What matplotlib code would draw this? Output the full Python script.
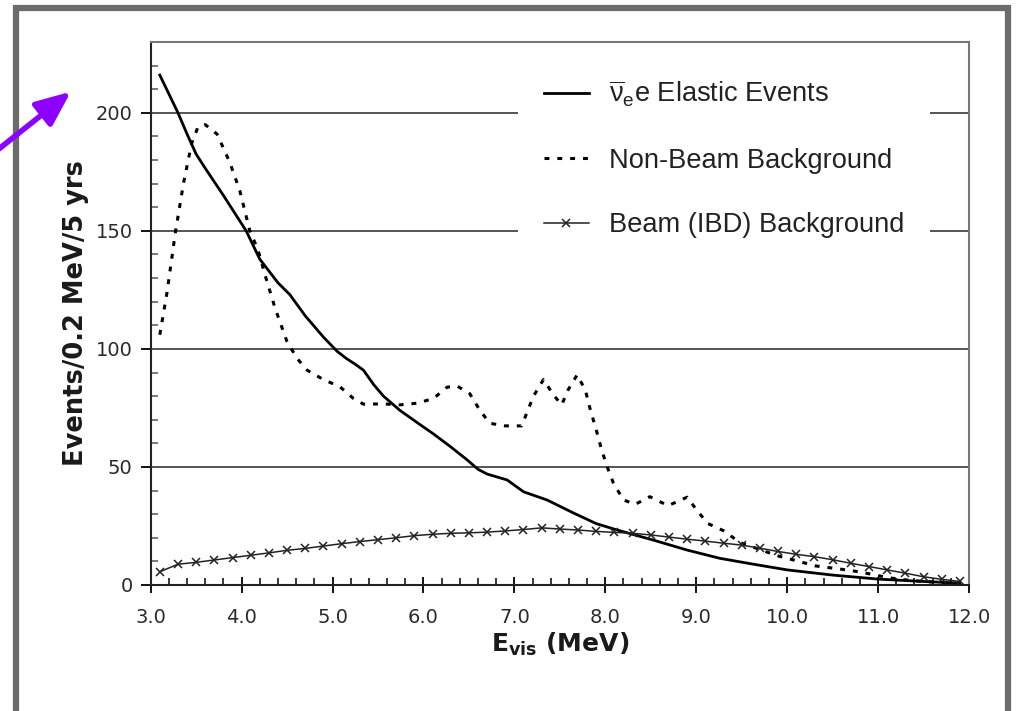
import matplotlib
matplotlib.use("Agg")
import matplotlib.pyplot as plt
from matplotlib.patches import Rectangle, FancyArrowPatch
from matplotlib.ticker import MultipleLocator

plt.rcParams['mathtext.fontset'] = 'custom'
plt.rcParams['mathtext.rm'] = 'Liberation Sans'
plt.rcParams['mathtext.it'] = 'Liberation Sans'
plt.rcParams['mathtext.bf'] = 'DejaVu Sans:bold'

# ---- data ----
elastic_E = [3.1, 3.2, 3.3, 3.4, 3.5, 3.6, 3.8, 4.0, 4.05, 4.2, 4.4, 4.53, 4.7, 4.9,
             5.05, 5.15, 5.25, 5.34, 5.45, 5.56, 5.74, 5.96, 6.11, 6.3, 6.48, 6.6,
             6.7, 6.92, 7.1, 7.36, 7.65, 7.9, 8.13, 8.53, 8.9, 9.26, 9.6, 10.0, 10.5,
             11.0, 11.5, 11.9]
elastic_v = [216, 208, 200, 191, 182.5, 176.5, 165, 153, 150, 138, 128, 123, 114, 105,
             99, 96, 93.5, 91, 85, 80, 74, 68, 64, 58.5, 53, 49,
             47, 44.5, 39.5, 36, 30.5, 26, 23.3, 19, 14.8, 11.3, 9, 6.4, 4.2,
             2.5, 1.5, 0.8]

nonbeam_E = [3.1, 3.18, 3.27, 3.36, 3.45, 3.52, 3.60, 3.73, 3.87, 3.98, 4.09, 4.18,
             4.26, 4.37, 4.50, 4.61, 4.72, 4.90, 5.08, 5.23, 5.34, 5.56, 5.74, 5.93,
             6.11, 6.26, 6.37, 6.51, 6.62, 6.73, 6.90, 7.08, 7.21, 7.32, 7.43, 7.52,
             7.59, 7.69, 7.78, 7.83, 7.91, 7.96, 8.02, 8.09, 8.20, 8.33, 8.49, 8.69,
             8.90, 9.02, 9.13, 9.30, 9.48, 9.90, 10.11, 10.31, 10.51, 10.71, 10.91,
             11.11, 11.32, 11.52, 11.83]
nonbeam_v = [106, 124, 149, 170, 187, 194, 195, 191, 179, 167, 150, 142,
             131, 117, 103, 96, 91, 87, 84, 79, 76.6, 76.7, 76.3, 77,
             79, 83.8, 84.3, 81, 74, 68.5, 67.4, 67.4, 80, 87, 80.5, 76.3,
             82.6, 89, 82.6, 75, 64.3, 57.2, 50.1, 43.1, 36, 34.2, 37.4, 33.6,
             37.2, 31, 26, 23, 18, 12.3, 10.2, 8.1, 7.1, 6.1, 4.7,
             3.1, 2.1, 1.4, 0.8]

ibd_E = [3.1, 3.3, 3.5, 3.7, 3.9, 4.1, 4.3, 4.5, 4.7, 4.9, 5.1, 5.3, 5.5, 5.7, 5.9,
         6.1, 6.3, 6.5, 6.7, 6.9, 7.1, 7.3, 7.5, 7.7, 7.9, 8.1, 8.3, 8.5, 8.7, 8.9,
         9.1, 9.3, 9.5, 9.7, 9.9, 10.1, 10.3, 10.5, 10.7, 10.9, 11.1, 11.3, 11.5,
         11.7, 11.9]
ibd_v = [5.6, 8.8, 9.6, 10.6, 11.6, 12.6, 13.6, 14.7, 15.5, 16.5, 17.5, 18.4, 19.2,
         20.0, 20.9, 21.5, 21.9, 22.1, 22.4, 22.9, 23.5, 24.2, 23.7, 23.3, 22.7,
         22.3, 21.9, 21.2, 20.3, 19.4, 18.6, 17.7, 16.9, 15.6, 14.2, 13.0, 12.0,
         10.7, 9.2, 7.8, 6.4, 5.0, 3.5, 2.4, 1.5]

labels = [r'$\overline{\nu}_{e}$e Elastic Events', 'Non-Beam Background',
          'Beam (IBD) Background']
xticks = [3, 4, 5, 6, 7, 8, 9, 10, 11, 12]
yticks = [0, 50, 100, 150, 200]

W, H = 1017, 711
fig = plt.figure(figsize=(W / 100, H / 100), dpi=100)
fig.patch.set_facecolor('white')

ax = fig.add_axes([150.7 / W, 1 - 585 / H, (969 - 150.7) / W, (585 - 42) / H])
ax.set_xlim(3, 12)
ax.set_ylim(0, 230)

for y in yticks[1:]:
    ax.axhline(y, color='#555555', lw=1.4, zorder=1)

ax.plot(elastic_E, elastic_v, color='black', lw=2.0, label=labels[0], zorder=3)
ax.plot(nonbeam_E, nonbeam_v, color='black', lw=2.2, ls=(0, (1.6, 2.6)),
        label=labels[1], zorder=3)
ax.plot(ibd_E, ibd_v, color='#222222', lw=1.1, marker='x', ms=5.5, mew=1.1,
        label=labels[2], zorder=3)

ax.set_xticks(xticks)
ax.set_xticklabels([f'{v:.1f}' for v in xticks])
ax.set_yticks(yticks)
ax.xaxis.set_minor_locator(MultipleLocator(0.2))
ax.yaxis.set_minor_locator(MultipleLocator(10))
ax.tick_params(axis='x', which='major', direction='inout', length=11, width=1.3,
               labelsize=14, pad=11, labelcolor='#2a2a2a')
ax.tick_params(axis='x', which='minor', direction='in', length=5, width=1.1)
ax.tick_params(axis='y', which='major', direction='out', length=7, width=1.3,
               labelsize=14, pad=6, labelcolor='#2a2a2a')
ax.tick_params(axis='y', which='minor', direction='in', length=5, width=1.1,
               color='#555555')

for s in ['left', 'bottom']:
    ax.spines[s].set_color('#222222')
    ax.spines[s].set_linewidth(1.5)
for s in ['top', 'right']:
    ax.spines[s].set_color('#777777')
    ax.spines[s].set_linewidth(1.5)

ax.set_ylabel('Events/0.2 MeV/5 yrs', fontsize=18.5, fontweight='bold',
              color='#1a1a1a', labelpad=5)
ax.set_xlabel(r'$\mathbf{E}_{\mathbf{vis}}$ (MeV)', fontsize=18,
              fontweight='bold', color='#1a1a1a', labelpad=3)

leg = ax.legend(loc='upper left', bbox_to_anchor=(518 / W, 1 - 53 / H),
                bbox_transform=fig.transFigure, frameon=True, fancybox=False,
                framealpha=1, edgecolor='none', facecolor='white',
                prop={'family': 'Liberation Sans', 'size': 19.6},
                handlelength=1.65, handletextpad=0.75, labelspacing=1.42,
                borderpad=0.95, borderaxespad=0)
for t in leg.get_texts():
    t.set_color('#222222')
leg.set_zorder(5)

# outer screenshot frame
fig.patches.append(Rectangle((16 / W, -0.1), (1008 - 16) / W, 1.1 - 8 / H,
                             transform=fig.transFigure, fill=False,
                             edgecolor='#6b6b6b', lw=4.5))
# purple arrow
fig.patches.append(FancyArrowPatch((-5 / W, 1 - 152 / H), (73 / W, 1 - 90 / H),
                                   transform=fig.transFigure,
                                   arrowstyle='-|>,head_length=21,head_width=9',
                                   mutation_scale=1, color='#8c00ff', lw=4))

fig.savefig('out.png', dpi=100, facecolor='white')
